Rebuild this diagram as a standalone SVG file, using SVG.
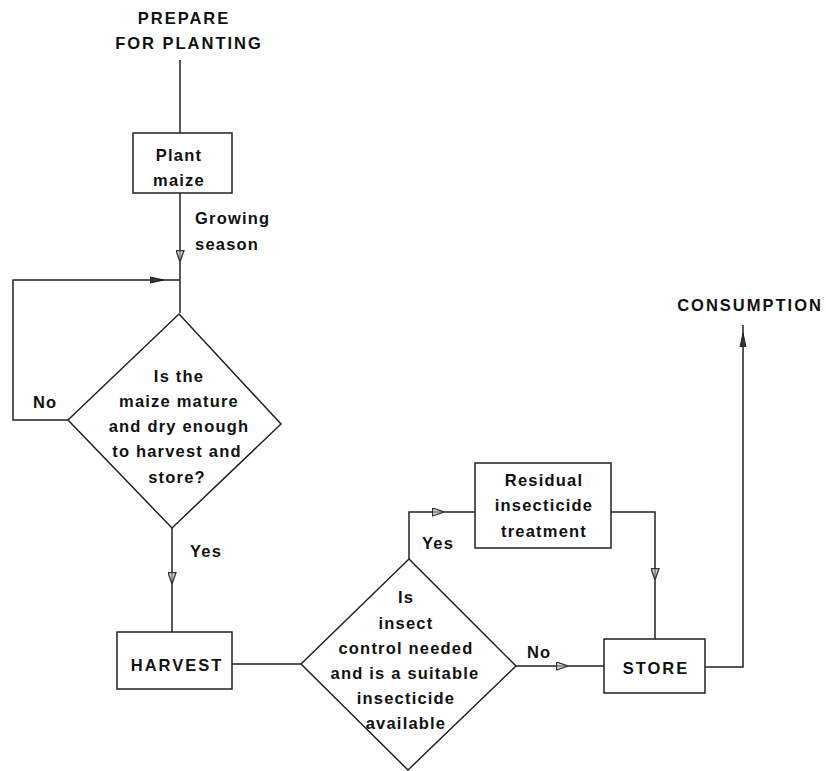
<svg xmlns="http://www.w3.org/2000/svg" width="826" height="771" viewBox="0 0 826 771">
<style>
  .box { fill: #fff; stroke: #222; stroke-width: 1.5; }
  .ln { fill: none; stroke: #222; stroke-width: 1.5; }
  .t { font-family: "Liberation Sans", Arial, sans-serif; font-size: 16.5px; font-weight: bold; fill: #111; text-anchor: middle; letter-spacing: 1.2px; }
  .c { letter-spacing: 2px; }
  .s { text-anchor: start; }
</style>
<defs>
  <marker id="open" viewBox="0 0 12 9" refX="12" refY="4.5" markerWidth="12" markerHeight="9" markerUnits="userSpaceOnUse" orient="auto">
    <path d="M0.5,0.5 L12,4.5 L0.5,8.5 z" fill="#bbb" fill-opacity="0.6" stroke="#333" stroke-width="1.3"/>
  </marker>
  <marker id="fill" viewBox="0 0 14 8" refX="14" refY="4" markerWidth="14" markerHeight="8" markerUnits="userSpaceOnUse" orient="auto">
    <path d="M0,1 L14,4 L0,7 z" fill="#333" stroke="#222" stroke-width="1"/>
  </marker>
</defs>
<g id="connectors">
  <path class="ln" d="M180,60 L180,133"/>
  <path class="ln" d="M180,193 L180,262" marker-end="url(#open)"/>
  <path class="ln" d="M180,262 L180,313"/>
  <path class="ln" d="M68,420 L13,420 L13,280 L164,280" marker-end="url(#fill)"/>
  <path class="ln" d="M164,280 L180,280"/>
  <path class="ln" d="M172,528 L172,584" marker-end="url(#open)"/>
  <path class="ln" d="M172,584 L172,632"/>
  <path class="ln" d="M232,664 L301,664"/>
  <path class="ln" d="M409,559 L409,512 L444,512" marker-end="url(#open)"/>
  <path class="ln" d="M444,512 L475,512"/>
  <path class="ln" d="M516,666 L568,666" marker-end="url(#open)"/>
  <path class="ln" d="M568,666 L604,666"/>
  <path class="ln" d="M611,512 L655,512 L655,580" marker-end="url(#open)"/>
  <path class="ln" d="M655,580 L655,639"/>
  <path class="ln" d="M705,667 L743,667 L743,333" marker-end="url(#fill)"/>
  <path class="ln" d="M743,333 L743,325"/>
</g>
<g id="prepare">
  <text class="t c" x="184" y="24">PREPARE</text>
  <text class="t c" x="189" y="49">FOR PLANTING</text>
</g>
<g id="plant">
  <rect class="box" x="133" y="133" width="99" height="60"/>
  <text class="t" x="179" y="161">Plant</text>
  <text class="t" x="179" y="186">maize</text>
</g>
<g id="growing-label">
  <text class="t s" x="195" y="224">Growing</text>
  <text class="t s" x="195" y="250">season</text>
</g>
<g id="decision-mature">
  <polygon class="box" points="179,314 281,424 172,528 68,420"/>
  <text class="t" x="179" y="382">Is the</text>
  <text class="t" x="179" y="407">maize mature</text>
  <text class="t" x="179" y="432">and dry enough</text>
  <text class="t" x="177" y="457">to harvest and</text>
  <text class="t" x="177" y="483">store?</text>
</g>
<g id="no-label-1"><text class="t s" x="33" y="408">No</text></g>
<g id="yes-label-1"><text class="t s" x="190" y="557">Yes</text></g>
<g id="harvest">
  <rect class="box" x="117" y="632" width="115" height="57"/>
  <text class="t c" x="177" y="671">HARVEST</text>
</g>
<g id="decision-insect">
  <polygon class="box" points="409,559 516,666 408,770 301,664"/>
  <text class="t" x="406" y="603">Is</text>
  <text class="t" x="406" y="629">insect</text>
  <text class="t" x="406" y="654">control needed</text>
  <text class="t" x="405" y="679">and is a suitable</text>
  <text class="t" x="406" y="704">insecticide</text>
  <text class="t" x="406" y="729">available</text>
</g>
<g id="yes-label-2"><text class="t s" x="422" y="549">Yes</text></g>
<g id="no-label-2"><text class="t s" x="527" y="658">No</text></g>
<g id="residual">
  <rect class="box" x="475" y="463" width="136" height="85"/>
  <text class="t" x="544" y="486">Residual</text>
  <text class="t" x="544" y="511">insecticide</text>
  <text class="t" x="544" y="537">treatment</text>
</g>
<g id="store">
  <rect class="box" x="604" y="639" width="101" height="54"/>
  <text class="t c" x="656" y="674">STORE</text>
</g>
<g id="consumption">
  <text class="t c" x="750" y="311">CONSUMPTION</text>
</g>
</svg>
